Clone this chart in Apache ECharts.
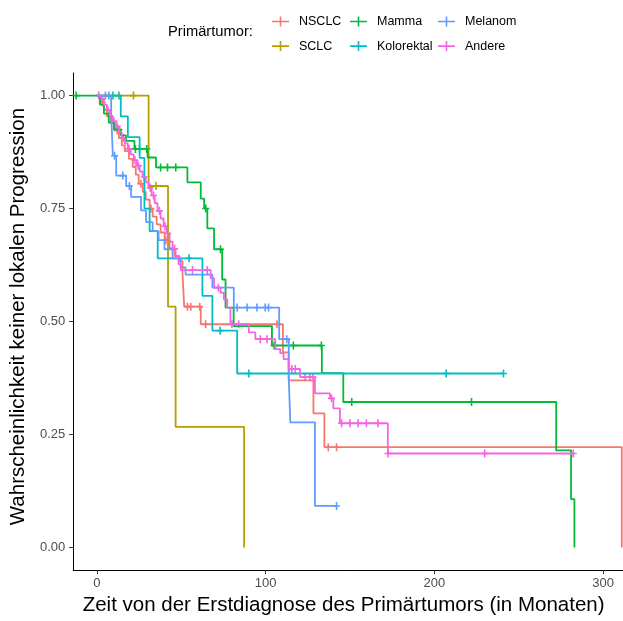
<!DOCTYPE html>
<html>
<head>
<meta charset="utf-8">
<script src="https://cdn.jsdelivr.net/npm/echarts@6/dist/echarts.min.js"></script>
<style>
  html, body { margin: 0; padding: 0; background: #ffffff; }
  #chart { width: 623px; height: 621px; }
</style>
</head>
<body>
<div id="chart"></div>
<script>
// Kaplan-Meier estimates: event times (months) and survival after each step
const groups = ['NSCLC', 'SCLC', 'Mamma', 'Kolorektal', 'Melanom', 'Andere'];
const colors = ['#F8766D', '#B79F00', '#00BA38', '#00BFC4', '#619CFF', '#F564E3'];

const nsclcTime = [0, 2.4, 4.1, 5.9, 8.2, 10.6, 13.0, 14.7, 16.5, 18.9, 21.2, 23.0, 24.7, 27.1, 28.9, 31.2, 33.0, 35.4, 37.7, 40.1, 43.0, 46.0, 48.9, 50.7, 51.7, 61.5, 110.2, 113.6, 128.3, 134.8, 311.1];
const nsclcSurv = [1, 0.985, 0.969, 0.954, 0.939, 0.923, 0.906, 0.890, 0.877, 0.860, 0.842, 0.825, 0.805, 0.787, 0.770, 0.750, 0.732, 0.715, 0.697, 0.680, 0.662, 0.645, 0.634, 0.605, 0.533, 0.494, 0.432, 0.370, 0.297, 0.222, 0];
const nsclcCensor = [3, 12, 26, 32, 40.8, 53.6, 55.6, 60.9, 64.4, 106.7, 137.1, 142];

const sclcTime = [0, 30.6, 42.1, 46.6, 87.2];
const sclcSurv = [1, 0.8, 0.533, 0.267, 0];
const sclcCensor = [21.6, 35];

const mammaTime = [-12.4, 1.8, 4.1, 7.0, 10.0, 14.1, 17.1, 22.2, 30.0, 35.0, 53.6, 61.5, 63.5, 65.4, 69.4, 74.2, 76.2, 81.0, 103.7, 133.3, 146.0, 272.2, 281.0, 283.0];
const mammaSurv = [1, 0.98, 0.96, 0.94, 0.925, 0.912, 0.90, 0.882, 0.863, 0.841, 0.808, 0.772, 0.75, 0.706, 0.66, 0.593, 0.531, 0.49, 0.447, 0.386, 0.322, 0.215, 0.107, 0];
const mammaCensor = [-12.4, 13, 22.8, 25.2, 29.5, 37.7, 41.8, 46.7, 64.5, 73.2, 105, 116.4, 133.0, 151, 222];

const kolorektalTime = [0, 14.1, 18.3, 25.3, 28.1, 31.2, 36.0, 62.5, 68.4, 83.1, 241.0];
const kolorektalSurv = [1, 0.954, 0.908, 0.862, 0.75, 0.70, 0.64, 0.557, 0.48, 0.385, 0.385];
const kolorektalCensor = [9.4, 13.0, 54.6, 73.0, 90.0, 207, 241];

const melanomTime = [0, 8.4, 9.4, 11.4, 17.3, 20.2, 26.1, 29.1, 33.0, 36.5, 40.0, 44.8, 49.5, 52.5, 68.4, 81.1, 108.0, 113.7, 114.6, 129.2, 142];
const melanomSurv = [1, 0.96, 0.867, 0.823, 0.80, 0.776, 0.746, 0.72, 0.70, 0.68, 0.66, 0.64, 0.62, 0.604, 0.575, 0.531, 0.461, 0.369, 0.277, 0.092, 0.092];
const melanomCensor = [5, 7, 10.4, 15.3, 19.2, 83.1, 89.0, 94.8, 99.7, 101.7, 112.5, 142];

const andereTime = [0, 2.4, 4.1, 5.9, 7.7, 9.4, 11.2, 13.0, 14.7, 16.5, 18.3, 20.0, 21.8, 23.6, 25.3, 27.1, 28.9, 30.6, 32.4, 34.2, 35.9, 37.7, 39.5, 41.3, 43.0, 44.8, 46.6, 48.3, 49.7, 67.4, 69.4, 73.2, 75.2, 77.2, 79.1, 90.0, 93.9, 105.7, 108.6, 110.6, 113.6, 120.4, 129.2, 138.1, 140.1, 144.0, 172.4, 282.3];
const andereSurv = [1, 0.993, 0.980, 0.968, 0.955, 0.943, 0.931, 0.919, 0.906, 0.894, 0.882, 0.870, 0.857, 0.845, 0.832, 0.820, 0.808, 0.796, 0.779, 0.762, 0.745, 0.728, 0.711, 0.695, 0.677, 0.661, 0.644, 0.627, 0.614, 0.596, 0.575, 0.564, 0.549, 0.531, 0.494, 0.476, 0.461, 0.439, 0.430, 0.417, 0.395, 0.377, 0.341, 0.330, 0.308, 0.275, 0.208, 0.208];
const andereCensor = [1, 3, 6.5, 10, 12, 15.5, 19, 22.5, 24.5, 28, 31.5, 33.5, 37, 40.3, 42, 46, 56.6, 65.4, 72, 80, 84, 96.8, 100.8, 115.5, 117.5, 123.3, 126.3, 128, 139, 145, 149.9, 154.8, 159.7, 166.6, 172.5, 229.8, 282.3];

const xTicks = [0, 100, 200, 300];
const yTicks = [0, 0.25, 0.5, 0.75, 1];

const curves = [
  [nsclcTime, nsclcSurv, nsclcCensor],
  [sclcTime, sclcSurv, sclcCensor],
  [mammaTime, mammaSurv, mammaCensor],
  [kolorektalTime, kolorektalSurv, kolorektalCensor],
  [melanomTime, melanomSurv, melanomCensor],
  [andereTime, andereSurv, andereCensor]
];

// survival estimate at time t (right-continuous step function)
function survAt(times, surv, t) {
  let v = surv[0];
  for (let i = 0; i < times.length; i++) {
    if (times[i] <= t) v = surv[i];
  }
  return v;
}

const FONT = '"Liberation Sans", Arial, sans-serif';
const PLUS = 'path://M0,3.2h7v1.6h-7z M2.7,0h1.6v8h-1.6z';
const KEY = 'path://M0,4.2h17v1.6h-17z M7.7,0h1.6v10h-1.6z';

const lineSeries = groups.map((g, i) => ({
  name: g,
  type: 'line',
  step: 'end',
  symbol: 'none',
  data: curves[i][0].map((t, k) => [t, curves[i][1][k]]),
  lineStyle: { color: colors[i], width: 1.8 },
  itemStyle: { color: colors[i] },
  silent: true
}));

const censorSeries = groups.map((g, i) => ({
  name: g,
  type: 'scatter',
  symbol: PLUS,
  symbolSize: [7, 8],
  data: curves[i][2].map(t => [t, survAt(curves[i][0], curves[i][1], t)]),
  itemStyle: { color: colors[i], opacity: 1 },
  silent: true
}));

function legendColumn(names, left) {
  return {
    orient: 'vertical',
    left: left,
    top: 15,
    padding: 0,
    itemWidth: 17,
    itemHeight: 10,
    itemGap: 11.6,
    selectedMode: false,
    textStyle: { fontFamily: FONT, fontSize: 12.5, color: '#000000', padding: [0, 0, 0, 5] },
    data: names.map(n => ({ name: n, icon: KEY, itemStyle: { color: colors[groups.indexOf(n)] } }))
  };
}

const chart = echarts.init(document.getElementById('chart'), null, { renderer: 'canvas' });
chart.setOption({
  animation: false,
  backgroundColor: '#ffffff',
  title: {
    text: 'Primärtumor:',
    left: 168,
    top: 24,
    padding: 0,
    textStyle: { fontFamily: FONT, fontSize: 14.7, fontWeight: 'normal', color: '#000000' }
  },
  legend: [
    legendColumn(['NSCLC', 'SCLC'], 272),
    legendColumn(['Mamma', 'Kolorektal'], 350),
    legendColumn(['Melanom', 'Andere'], 438)
  ],
  grid: { left: 70, right: 0, top: 73, bottom: 46, containLabel: false },
  xAxis: {
    type: 'value',
    min: -14.1,
    max: 311.8,
    name: 'Zeit von der Erstdiagnose des Primärtumors (in Monaten)',
    nameLocation: 'middle',
    nameGap: 22,
    nameTextStyle: { fontFamily: FONT, fontSize: 20.5, color: '#000000', padding: [0, 9, 0, 0] },
    axisLine: { show: true, onZero: false, lineStyle: { color: '#000000', width: 1 } },
    axisTick: { show: true, length: 4, customValues: xTicks, lineStyle: { color: '#333333' } },
    axisLabel: { customValues: xTicks, margin: 7, fontFamily: FONT, fontSize: 13, color: '#4D4D4D' },
    splitLine: { show: false }
  },
  yAxis: {
    type: 'value',
    min: -0.05,
    max: 1.05,
    name: 'Wahrscheinlichkeit keiner lokalen Progression',
    nameLocation: 'middle',
    nameRotate: 90,
    nameGap: 41,
    nameTextStyle: { fontFamily: FONT, fontSize: 20.5, color: '#000000', padding: [0, 0, 0, 10] },
    axisLine: { show: true, onZero: false, lineStyle: { color: '#000000', width: 1 } },
    axisTick: { show: true, length: 4, customValues: yTicks, lineStyle: { color: '#333333' } },
    axisLabel: {
      customValues: yTicks,
      margin: 8,
      fontFamily: FONT,
      fontSize: 13,
      color: '#4D4D4D',
      formatter: v => v.toFixed(2)
    },
    splitLine: { show: false }
  },
  series: lineSeries.concat(censorSeries)
});
</script>
</body>
</html>
